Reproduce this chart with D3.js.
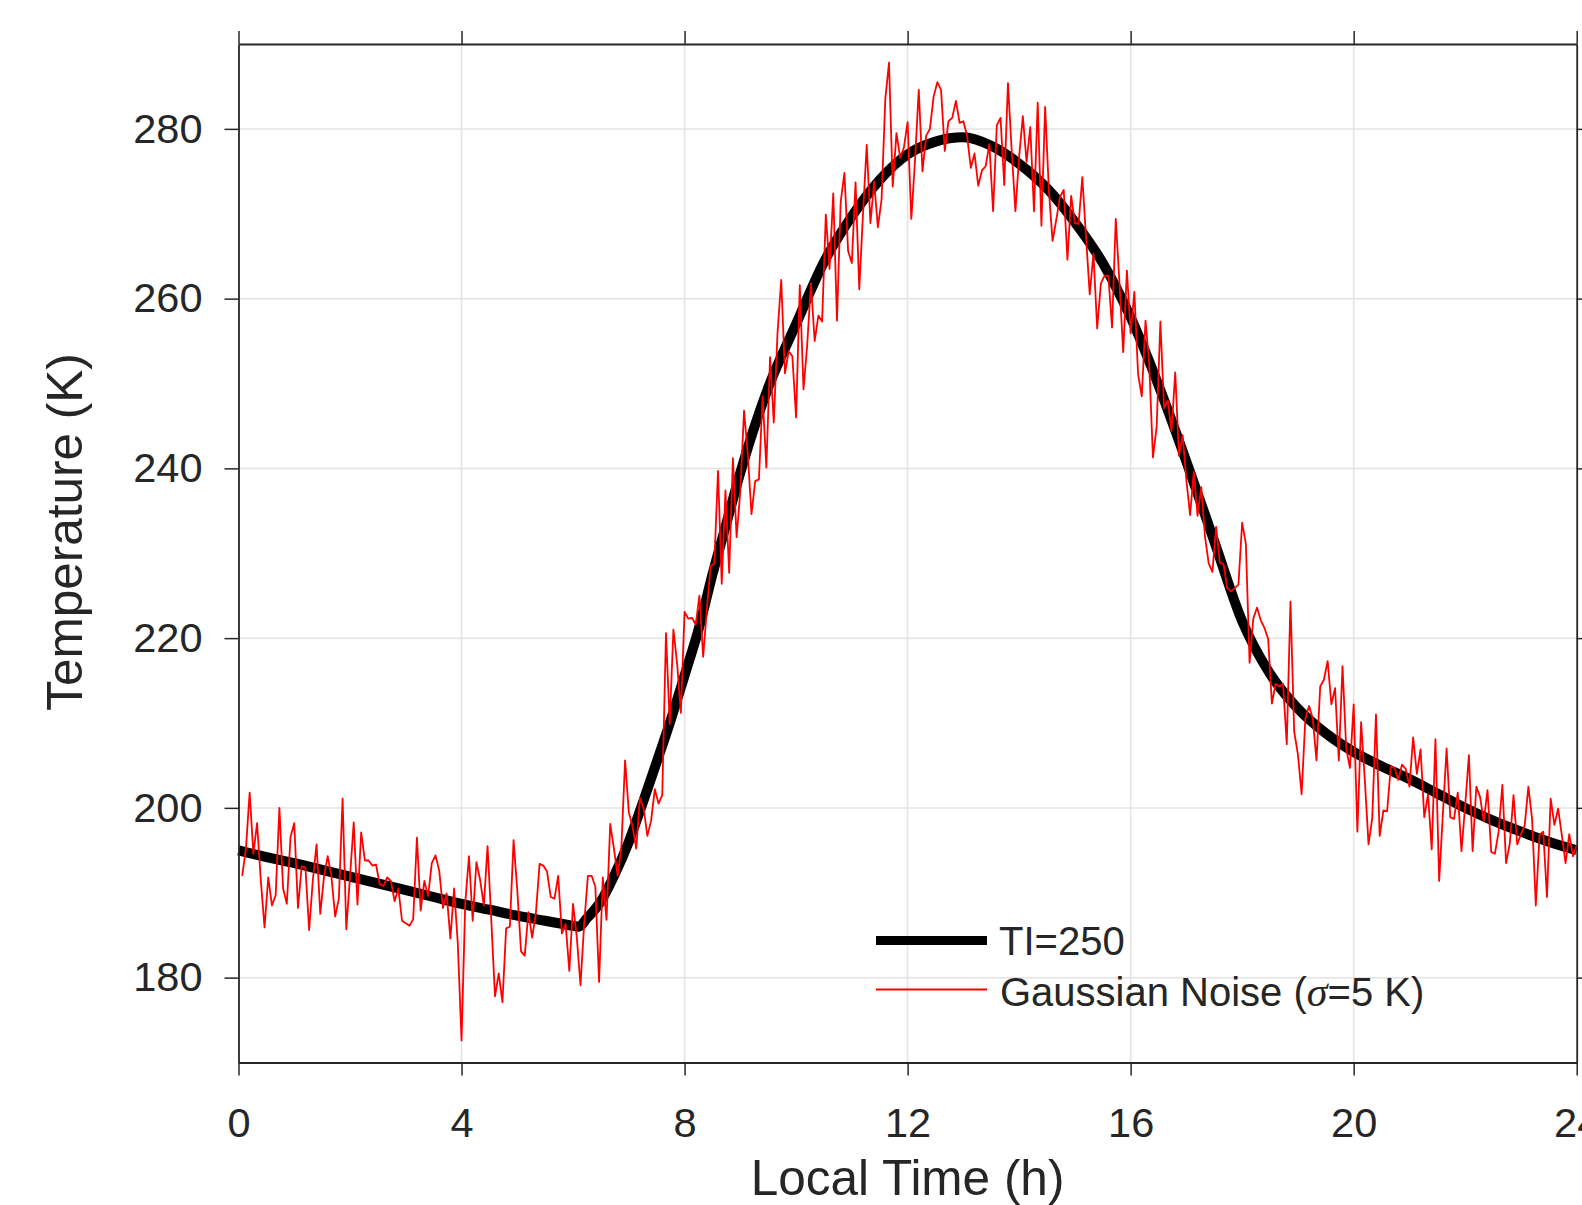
<!DOCTYPE html>
<html>
<head>
<meta charset="utf-8">
<script src="https://cdn.jsdelivr.net/npm/d3@7/dist/d3.min.js"></script>
<style>
  body { margin: 0; background: #fff; }
  svg text { font-family: "Liberation Sans", Helvetica, Arial, sans-serif; fill: #262626; }
</style>
</head>
<body>
<div id="chart"></div>
<script>
// model surface temperature, TI=250 (hour of day -> K)
let modelHours = [0, 0.5, 1, 1.5, 2, 2.5, 3, 3.5, 4, 4.5, 5, 5.5, 6, 6.1, 6.25, 6.5, 6.75,
  7, 7.25, 7.5, 7.75, 8, 8.25, 8.5, 8.75, 9, 9.5, 10, 10.5, 11, 11.5, 12, 12.5, 13, 13.5,
  14, 14.5, 15, 15.5, 16, 16.5, 17, 17.5, 18, 18.5, 19, 19.5, 20, 20.5, 21, 21.5, 22,
  22.5, 23, 23.5, 24];
let modelTemp = [195.0, 194.2, 193.5, 192.7, 191.9, 191.1, 190.3, 189.5, 188.7, 188.0,
  187.3, 186.7, 186.1, 186.0, 187.0, 189.0, 192.2,
  196.0, 200.6, 205.4, 210.3, 215.6, 221.0, 227.5, 233.5, 239.5, 249.5, 257.0, 264.3,
  269.7, 274.0, 277.0, 278.5, 279.0, 278.0, 275.9, 273.0, 269.0, 264.2, 257.8, 249.8,
  240.8, 231.4, 222.0, 215.8, 211.7, 208.8, 206.6, 204.9, 203.4, 201.7, 200.0, 198.5,
  197.2, 196.0, 195.0];

// samples with gaussian noise, one every 4 minutes starting at 00:04
let noiseStep = 4 / 60;
let noiseTemp = [
  192.0, 195.2, 201.8, 194.6, 198.2, 191.5, 185.9, 191.8, 188.5, 189.7,
  200.0, 190.5, 188.7, 196.6, 198.2, 188.2, 193.1, 193.0, 185.6, 191.5,
  195.7, 187.5, 191.9, 194.3, 191.9, 187.2, 189.3, 201.1, 185.7, 191.9,
  198.3, 188.6, 197.1, 193.8, 193.8, 193.2, 193.3, 191.0, 190.8, 191.8,
  191.4, 189.0, 190.5, 186.7, 186.4, 186.1, 186.9, 196.5, 187.9, 191.4,
  189.6, 193.5, 194.4, 192.6, 188.2, 189.9, 184.6, 190.5, 184.0, 172.6,
  188.8, 194.3, 186.7, 193.6, 191.5, 188.5, 195.5, 186.8, 177.8, 180.5,
  177.1, 185.8, 186.0, 196.2, 190.3, 183.1, 182.6, 187.7, 184.7, 187.6,
  193.4, 193.2, 192.5, 189.5, 189.3, 192.0, 185.2, 186.3, 180.8, 188.7,
  184.8, 179.1, 186.4, 192.0, 192.0, 190.7, 179.5, 191.8, 186.8, 198.1,
  195.2, 192.0, 195.4, 205.6, 199.5, 197.8, 195.2, 201.2, 199.9, 196.7,
  198.5, 202.2, 200.5, 201.5, 220.6, 209.9, 221.0, 217.0, 211.2, 223.1,
  222.3, 222.4, 221.6, 225.0, 217.8, 223.4, 228.5, 228.8, 239.7, 226.4,
  237.4, 227.7, 241.2, 231.9, 237.3, 246.8, 241.7, 234.6, 238.5, 238.7,
  248.5, 240.1, 253.1, 245.4, 255.9, 262.2, 251.2, 253.8, 253.2, 246.0,
  261.6, 249.3, 254.6, 261.8, 255.0, 258.0, 257.3, 269.9, 263.5, 272.4,
  257.4, 271.4, 274.8, 265.6, 264.2, 273.7, 261.1, 270.0, 278.1, 268.9,
  273.8, 268.4, 271.7, 283.5, 287.8, 273.2, 279.5, 276.6, 277.8, 280.8,
  269.4, 276.3, 284.6, 275.0, 279.2, 280.0, 283.8, 285.5, 284.6, 277.4,
  280.9, 281.3, 283.3, 280.7, 280.9, 279.2, 275.4, 277.1, 273.3, 275.1,
  275.6, 278.2, 270.3, 280.4, 281.3, 273.4, 285.4, 277.5, 270.3, 276.7,
  281.5, 276.1, 280.2, 270.3, 283.1, 268.6, 282.6, 272.8, 266.8, 269.3,
  272.0, 272.8, 264.6, 272.1, 268.9, 268.8, 274.3, 267.3, 260.5, 265.3,
  256.5, 261.8, 262.7, 262.7, 256.6, 269.4, 261.8, 253.7, 263.3, 255.9,
  260.8, 251.1, 248.5, 257.4, 252.3, 241.3, 244.9, 257.3, 247.1, 248.0,
  244.4, 251.3, 241.5, 243.9, 238.6, 234.5, 239.6, 234.4, 237.8, 232.0,
  228.8, 227.8, 233.1, 228.9, 228.7, 225.9, 225.5, 225.9, 226.3, 233.6,
  231.1, 217.1, 222.3, 223.6, 222.1, 221.2, 219.9, 212.3, 214.6, 214.3,
  214.6, 207.5, 224.3, 209.0, 206.3, 201.6, 210.5, 212.0, 210.5, 205.6,
  214.3, 215.1, 217.3, 212.2, 214.1, 205.6, 216.7, 207.0, 204.7, 212.2,
  197.2, 210.1, 203.3, 195.7, 198.8, 211.0, 196.7, 199.7, 199.6, 204.9,
  204.7, 203.3, 205.1, 204.6, 202.5, 208.3, 204.0, 206.9, 198.9, 201.6,
  195.1, 208.1, 191.4, 199.3, 207.0, 198.9, 198.7, 201.8, 194.9, 200.3,
  206.2, 194.9, 202.5, 201.3, 198.4, 202.1, 194.8, 194.6, 197.2, 202.7,
  193.5, 195.8, 201.5, 195.7, 196.9, 197.9, 202.5, 198.7, 188.5, 196.8,
  197.2, 189.5, 201.1, 198.0, 199.9, 196.8, 193.5, 196.9, 194.3, 195.6
];

let xTicks = [0, 4, 8, 12, 16, 20, 24];
let yTicks = [180, 200, 220, 240, 260, 280];
let seriesNames = ['TI=250', 'Gaussian Noise'];

let width = 1582,
  height = 1205;

let x = d3.scaleLinear().domain([0, 24]).range([238.5, 1576.7]);
let y = d3.scaleLinear().domain([170, 290]).range([1062.5, 44]);

const svg = d3.select('#chart').append('svg')
  .attr('width', width)
  .attr('height', height)
  .style('display', 'block');

svg.append('rect')
  .attr('width', width)
  .attr('height', height)
  .attr('fill', '#fff');

// grid
const grid = svg.append('g').attr('stroke', '#e3e3e3').attr('stroke-width', 1.5);
grid.selectAll('line.gx')
  .data(xTicks.slice(1, -1))
  .enter().append('line')
  .attr('class', 'gx')
  .attr('x1', d => x(d)).attr('x2', d => x(d))
  .attr('y1', y(290)).attr('y2', y(170));
grid.selectAll('line.gy')
  .data(yTicks)
  .enter().append('line')
  .attr('class', 'gy')
  .attr('x1', x(0)).attr('x2', x(24))
  .attr('y1', d => y(d)).attr('y2', d => y(d));

// curves
let model = modelHours.map((h, i) => [h, modelTemp[i]]);
let noisy = noiseTemp.map((v, i) => [(i + 1) * noiseStep, v]);

let line = d3.line()
  .x(d => x(d[0]))
  .y(d => y(d[1]));

svg.append('path')
  .datum(model)
  .attr('fill', 'none')
  .attr('stroke', '#000')
  .attr('stroke-width', 10)
  .attr('stroke-linejoin', 'round')
  .attr('d', line.curve(d3.curveMonotoneX));

svg.append('path')
  .datum(noisy)
  .attr('fill', 'none')
  .attr('stroke', '#ff0000')
  .attr('stroke-width', 1.8)
  .attr('stroke-linejoin', 'round')
  .attr('d', line.curve(d3.curveLinear));

// axes
function styleAxis(g) {
  g.select('.domain').attr('stroke', '#262626').attr('stroke-width', 1.8);
  g.selectAll('.tick line').attr('stroke', '#262626').attr('stroke-width', 1.5);
  g.selectAll('.tick text')
    .attr('fill', '#262626')
    .style('font-size', '41.5px');
}

svg.append('g')
  .attr('transform', `translate(0,${y(170)})`)
  .call(d3.axisBottom(x).tickValues(xTicks).tickSizeInner(13).tickSizeOuter(0).tickPadding(32))
  .call(styleAxis);

svg.append('g')
  .attr('transform', `translate(0,${y(290)})`)
  .call(d3.axisTop(x).tickValues(xTicks).tickSizeInner(13).tickSizeOuter(0).tickFormat(''))
  .call(styleAxis);

svg.append('g')
  .attr('transform', `translate(${x(0)},0)`)
  .call(d3.axisLeft(y).tickValues(yTicks).tickSizeInner(14).tickSizeOuter(0).tickPadding(22))
  .call(styleAxis);

svg.append('g')
  .attr('transform', `translate(${x(24)},0)`)
  .call(d3.axisRight(y).tickValues(yTicks).tickSizeInner(14).tickSizeOuter(0).tickFormat(''))
  .call(styleAxis);

svg.selectAll('.domain').attr('fill', 'none');

// axis labels
svg.append('text')
  .attr('x', (x(0) + x(24)) / 2)
  .attr('y', 1195)
  .attr('text-anchor', 'middle')
  .style('font-size', '49.5px')
  .text('Local Time (h)');

svg.append('text')
  .attr('transform', 'translate(82,532) rotate(-90)')
  .attr('text-anchor', 'middle')
  .style('font-size', '49.5px')
  .text('Temperature (K)');

// legend
const legend = svg.append('g');
legend.append('line')
  .attr('x1', 876).attr('x2', 987)
  .attr('y1', 940.5).attr('y2', 940.5)
  .attr('stroke', '#000').attr('stroke-width', 9);
legend.append('line')
  .attr('x1', 876).attr('x2', 987)
  .attr('y1', 989.5).attr('y2', 989.5)
  .attr('stroke', '#ff0000').attr('stroke-width', 1.8);

legend.append('text')
  .attr('x', 999).attr('y', 954.5)
  .style('font-size', '40px')
  .text(seriesNames[0]);

let noiseLabel = legend.append('text')
  .attr('x', 1000).attr('y', 1006)
  .style('font-size', '40px');
noiseLabel.append('tspan').text(seriesNames[1] + ' (');
noiseLabel.append('tspan')
  .style('font-family', '"Liberation Serif", "Times New Roman", serif')
  .style('font-style', 'italic')
  .style('font-size', '42px')
  .text('σ');
noiseLabel.append('tspan').text('=5 K)');
</script>
</body>
</html>
